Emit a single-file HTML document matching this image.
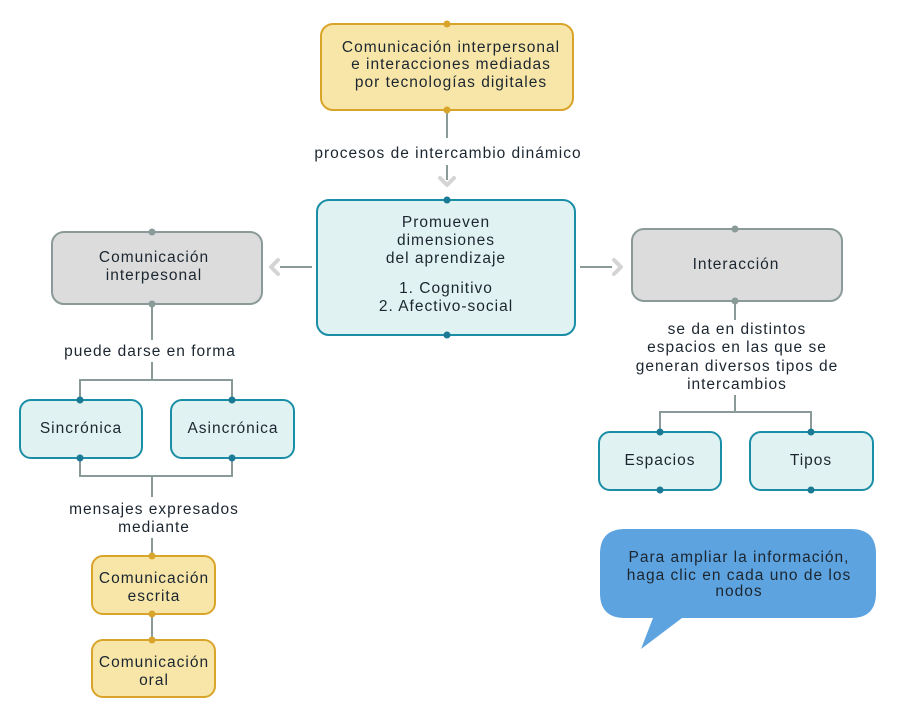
<!DOCTYPE html>
<html><head><meta charset="utf-8"><style>
html,body{margin:0;padding:0;background:#fff;width:899px;height:727px;overflow:hidden}
svg text{font-family:"Liberation Sans",sans-serif;font-size:15.5px;letter-spacing:1px;fill:#1c2630;text-anchor:middle}
</style></head><body>
<svg width="899" height="727" viewBox="0 0 899 727" xmlns="http://www.w3.org/2000/svg">
<g stroke="#8a9a98" stroke-width="2" fill="none">
<line x1="447" y1="110" x2="447" y2="138"/>
<line x1="447" y1="165" x2="447" y2="180"/>
<line x1="312" y1="267" x2="280" y2="267"/>
<line x1="580" y1="267" x2="612" y2="267"/>
<line x1="152" y1="304" x2="152" y2="340"/>
<polyline points="80,400 80,380 232,380 232,400"/>
<line x1="152" y1="362" x2="152" y2="380"/>
<polyline points="80,458 80,476 232,476 232,458"/>
<line x1="152" y1="476" x2="152" y2="497"/>
<line x1="152" y1="538" x2="152" y2="556"/>
<line x1="152" y1="614" x2="152" y2="640"/>
<line x1="735" y1="301" x2="735" y2="320"/>
<line x1="735" y1="395" x2="735" y2="412"/>
<polyline points="660,432 660,412 811,412 811,432"/>
</g>
<g stroke="#d4d4d4" stroke-width="4" fill="none" stroke-linecap="round" stroke-linejoin="round">
<polyline points="440,178 447,185 454,178"/>
<polyline points="278,260 271,267 278,274"/>
<polyline points="614,260 621,267 614,274"/>
</g>
<rect x="321" y="24" width="252" height="86" rx="12" fill="#f7e6a8" stroke="#d9a42a" stroke-width="2"/>
<rect x="317" y="200" width="258" height="135" rx="12" fill="#e1f2f2" stroke="#1a8ea6" stroke-width="2"/>
<rect x="52" y="232" width="210" height="72" rx="12" fill="#dcdcdc" stroke="#8a9a98" stroke-width="2"/>
<rect x="632" y="229" width="210" height="72" rx="12" fill="#dcdcdc" stroke="#8a9a98" stroke-width="2"/>
<rect x="20" y="400" width="122" height="58" rx="11" fill="#e1f2f2" stroke="#1a8ea6" stroke-width="2"/>
<rect x="171" y="400" width="123" height="58" rx="11" fill="#e1f2f2" stroke="#1a8ea6" stroke-width="2"/>
<rect x="599" y="432" width="122" height="58" rx="11" fill="#e1f2f2" stroke="#1a8ea6" stroke-width="2"/>
<rect x="750" y="432" width="123" height="58" rx="11" fill="#e1f2f2" stroke="#1a8ea6" stroke-width="2"/>
<rect x="92" y="556" width="123" height="58" rx="11" fill="#f7e6a8" stroke="#d9a42a" stroke-width="2"/>
<rect x="92" y="640" width="123" height="57" rx="11" fill="#f7e6a8" stroke="#d9a42a" stroke-width="2"/>
<path d="M625,529 H851 Q876,529 876,554 V593 Q876,618 851,618 H682 L641,649 L653,618 H625 Q600,618 600,593 V554 Q600,529 625,529 Z" fill="#5da3e0"/>
<g fill="#d9a42a"><circle cx="447" cy="24" r="3.5"/><circle cx="447" cy="110" r="3.5"/><circle cx="152" cy="556" r="3.5"/><circle cx="152" cy="614" r="3.5"/><circle cx="152" cy="640" r="3.5"/></g>
<g fill="#1a7a95"><circle cx="447" cy="200" r="3.5"/><circle cx="447" cy="335" r="3.5"/><circle cx="80" cy="400" r="3.5"/><circle cx="232" cy="400" r="3.5"/><circle cx="80" cy="458" r="3.5"/><circle cx="232" cy="458" r="3.5"/><circle cx="660" cy="432" r="3.5"/><circle cx="811" cy="432" r="3.5"/><circle cx="660" cy="490" r="3.5"/><circle cx="811" cy="490" r="3.5"/></g>
<g fill="#8a9a98"><circle cx="152" cy="232" r="3.5"/><circle cx="152" cy="304" r="3.5"/><circle cx="735" cy="229" r="3.5"/><circle cx="735" cy="301" r="3.5"/></g>
<text x="451" y="52">Comunicación interpersonal</text>
<text x="451" y="69">e interacciones mediadas</text>
<text x="451" y="87">por tecnologías digitales</text>
<text x="448" y="158">procesos de intercambio dinámico</text>
<text x="446" y="227">Promueven</text>
<text x="446" y="245">dimensiones</text>
<text x="446" y="263">del aprendizaje</text>
<text x="446" y="293">1. Cognitivo</text>
<text x="446" y="311">2. Afectivo-social</text>
<text x="154" y="262">Comunicación</text>
<text x="154" y="280">interpesonal</text>
<text x="736" y="269">Interacción</text>
<text x="150" y="356">puede darse en forma</text>
<text x="81" y="433">Sincrónica</text>
<text x="233" y="433">Asincrónica</text>
<text x="154" y="514">mensajes expresados</text>
<text x="154" y="532">mediante</text>
<text x="154" y="583">Comunicación</text>
<text x="154" y="601">escrita</text>
<text x="154" y="667">Comunicación</text>
<text x="154" y="685">oral</text>
<text x="737" y="334">se da en distintos</text>
<text x="737" y="352">espacios en las que se</text>
<text x="737" y="371">generan diversos tipos de</text>
<text x="737" y="389">intercambios</text>
<text x="660" y="465">Espacios</text>
<text x="811" y="465">Tipos</text>
<text x="739" y="562">Para ampliar la información,</text>
<text x="739" y="580">haga clic en cada uno de los</text>
<text x="739" y="596">nodos</text>
</svg>
</body></html>
